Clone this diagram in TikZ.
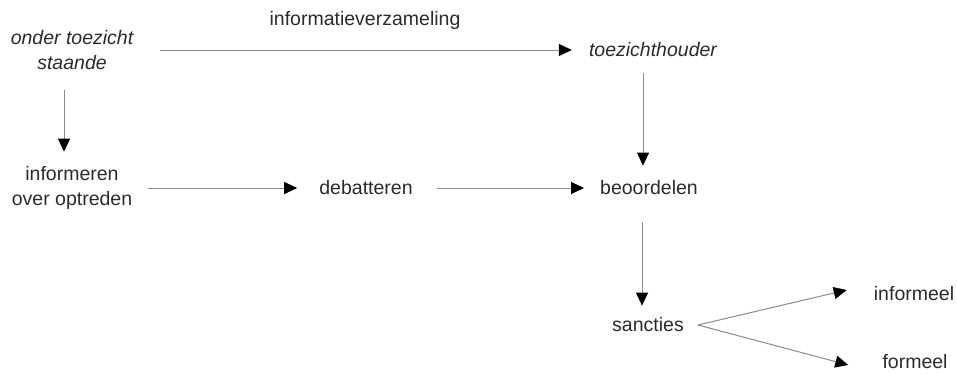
\documentclass[tikz,border=0pt]{standalone}
\usepackage{fontspec}
\setmainfont{Liberation Sans}
\usetikzlibrary{arrows.meta}
\definecolor{txt}{HTML}{2B2B2B}
\definecolor{ln}{HTML}{8C8C8C}
\tikzset{
  lbl/.style={inner sep=0pt, text=txt, font=\fontsize{19.5}{25}\selectfont, align=center},
  arr/.style={draw=ln, line width=1pt, -{Triangle[length=13pt,width=12pt,black]}}
}
\begin{document}
\begin{tikzpicture}[x=1pt,y=-1pt]
\useasboundingbox (0,0) rectangle (957,373);
\node[lbl, font=\fontsize{19.5}{25}\selectfont\itshape] (ots) at (72,50) {onder toezicht\\staande};
\node[lbl] (iv) at (365,20) {informatieverzameling};
\node[lbl, font=\fontsize{19.5}{25}\selectfont\itshape] (th) at (653,50) {toezichthouder};
\node[lbl] (inf) at (72,188) {informeren\\over optreden};
\node[lbl] (deb) at (366,188) {debatteren};
\node[lbl] (beo) at (649,188) {beoordelen};
\node[lbl] (san) at (648,325) {sancties};
\node[lbl] (inl) at (914,294) {informeel};
\node[lbl] (frm) at (915,362) {formeel};
% connectors
\draw[arr] ([xshift=27pt]ots.east) -- ([xshift=-17pt]th.west);
\draw[arr] ([xshift=-8pt,yshift=-20.5pt]ots.south) -- ([xshift=-8pt,yshift=14.5pt]inf.north);
\draw[arr] ([xshift=16pt]inf.east) -- ([xshift=-22pt]deb.west);
\draw[arr] ([xshift=24pt]deb.east) -- ([xshift=-16pt]beo.west);
\draw[arr] ([xshift=-10pt,yshift=-16pt]th.south) -- ([xshift=-6pt,yshift=15pt]beo.north);
\draw[arr] ([xshift=-7pt,yshift=-27pt]beo.south) -- ([xshift=-6pt,yshift=12pt]san.north);
\coordinate (fork) at ([xshift=14pt]san.east);
\draw[arr] (fork) -- ([xshift=-27pt,yshift=4pt]inl.west);
\draw[arr] (fork) -- ([xshift=-34pt,yshift=-3pt]frm.west);
\end{tikzpicture}
\end{document}
